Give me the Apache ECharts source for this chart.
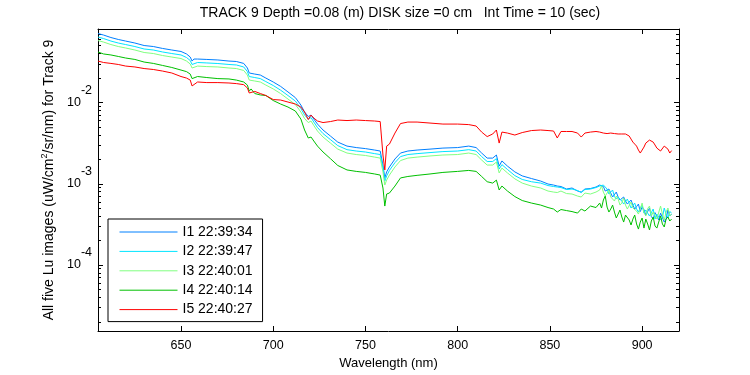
<!DOCTYPE html>
<html>
<head>
<meta charset="utf-8">
<script src="https://cdn.jsdelivr.net/npm/echarts@6/dist/echarts.min.js"></script>
<style>
html,body{margin:0;padding:0;background:#fff;}
#chart{width:750px;height:375px;}
</style>
</head>
<body>
<div id="chart"></div>
<script>
// Wavelength (nm)
const wavelength = [605,608,612,616,620,625,630,635,640,645,650,653,655,656,657,659,664,670,676,680,684,686,687,688,690,693,696,700,704,708,712,715,717,719,720.5,722,724,727,731,735,740,745,750,755,758,759.5,760.5,761.5,763,766,769,773,778,785,792,800,806,810,813,816,819,821,822.5,824,827,831,835,840,845,849,852,854,856,859,862,865,867,869,872,875,
877,878,879,880,881,882,883,884,885,886,887,888,889,890,891,892,893,894,895,896,897,898,899,900,901,902,903,904,905,906,907,908,909,910,911,912,913,914,915,916];

// Lu (uW/cm^2/sr/nm)
const I1 = [0.0707,0.0677,0.0631,0.0597,0.0571,0.0540,0.0503,0.0489,0.0463,0.0443,
0.0425,0.0396,0.0363,0.0324,0.0343,0.0343,0.0339,0.0334,0.0324,0.0320,
0.0303,0.0266,0.0231,0.0224,0.0224,0.0218,0.0200,0.0179,0.0158,0.0135,
0.0115,0.00932,0.00764,0.00673,0.00701,0.00626,0.00543,0.00459,0.00387,0.00326,
0.00291,0.00279,0.00271,0.00260,0.00253,0.00170,0.00118,0.00140,0.00161,0.00202,
0.00239,0.00253,0.00260,0.00267,0.00275,0.00279,0.00291,0.00279,0.00239,0.00207,
0.00207,0.00226,0.00165,0.00191,0.00165,0.00140,0.00125,0.00116,0.00108,0.000993,
0.000965,0.000938,0.000925,0.000862,0.000887,0.000814,0.000791,0.000862,0.000874,0.000912,
0.000965,0.00102,0.000925,0.000814,0.000838,0.000862,0.000769,0.000687,0.000727,0.000791,
0.000687,0.000631,0.000640,0.000687,0.000613,0.000563,0.000579,0.000631,0.000547,0.000489,
0.000524,0.000563,0.000455,0.000517,0.000482,0.000412,0.000424,0.000503,0.000395,0.000368,
0.000442,0.000462,0.000358,0.000436,0.000412,0.000338,0.000368,0.000475,0.000401,0.000424];

const I2 = [0.0640,0.0613,0.0571,0.0540,0.0517,0.0489,0.0456,0.0443,0.0419,0.0401,
0.0385,0.0358,0.0329,0.0294,0.0311,0.0311,0.0307,0.0302,0.0294,0.0290,
0.0274,0.0240,0.0209,0.0203,0.0203,0.0197,0.0181,0.0162,0.0142,0.0122,
0.01043,0.00843,0.00701,0.00626,0.00653,0.00575,0.00492,0.00415,0.00350,0.00295,
0.00263,0.00253,0.00246,0.00235,0.00229,0.00156,0.00108,0.00125,0.00146,0.00182,
0.00216,0.00229,0.00235,0.00242,0.00249,0.00253,0.00263,0.00253,0.00216,0.00188,
0.00188,0.00204,0.00152,0.00172,0.00150,0.00126,0.00113,0.00106,0.00102,0.000951,
0.000925,0.000912,0.000899,0.000850,0.000862,0.000826,0.000780,0.000850,0.000862,0.000899,
0.000938,0.000887,0.000965,0.000993,0.000862,0.000748,0.000769,0.000838,0.000696,0.000649,
0.000687,0.000727,0.000613,0.000563,0.000579,0.000649,0.000571,0.000503,0.000517,0.000579,
0.000489,0.000449,0.000503,0.000547,0.000436,0.000475,0.000468,0.000401,0.000424,0.000489,
0.000368,0.000424,0.000436,0.000358,0.000384,0.000503,0.000424,0.000379,0.000455,0.000436];

const I3 = [0.0579,0.0555,0.0517,0.0489,0.0469,0.0443,0.0413,0.0401,0.0379,0.0363,
0.0348,0.0324,0.0298,0.0266,0.0281,0.0281,0.0277,0.0274,0.0266,0.0262,
0.0248,0.0218,0.0189,0.0184,0.0184,0.0179,0.0164,0.0147,0.0129,0.01104,
0.00945,0.00764,0.00635,0.00567,0.00592,0.00521,0.00446,0.00376,0.00317,0.00267,
0.00239,0.00229,0.00223,0.00213,0.00207,0.00140,0.000965,0.00111,0.00128,0.00161,
0.00193,0.00207,0.00213,0.00220,0.00226,0.00229,0.00239,0.00229,0.00196,0.00170,
0.00170,0.00185,0.00136,0.00156,0.00136,0.00115,0.00102,0.000938,0.000887,0.000814,
0.000791,0.000780,0.000814,0.000758,0.000748,0.000706,0.000687,0.000769,0.000748,0.000791,
0.000838,0.000938,0.000791,0.000706,0.000769,0.000838,0.000687,0.000727,0.000613,0.000706,
0.000649,0.000547,0.000579,0.000668,0.000547,0.000489,0.000517,0.000596,0.000503,0.000532,
0.000462,0.000424,0.000489,0.000579,0.000442,0.000401,0.000496,0.000532,0.000401,0.000449,
0.000475,0.000368,0.000379,0.000532,0.000424,0.000358,0.000449,0.000503,0.000401,0.000424];

const I4 = [0.0419,0.0396,0.0385,0.0369,0.0353,0.0339,0.0315,0.0303,0.0286,0.0270,
0.0251,0.0240,0.0224,0.0197,0.0203,0.0209,0.0203,0.0197,0.0195,0.0189,
0.0179,0.0164,0.0138,0.0147,0.0129,0.0124,0.0122,0.01058,0.00958,0.00880,
0.00786,0.00626,0.00459,0.00366,0.00376,0.00336,0.00291,0.00246,0.00204,0.00168,
0.00148,0.00142,0.00138,0.00132,0.00128,0.000887,0.000532,0.000748,0.000769,0.000938,
0.00118,0.00123,0.00127,0.00132,0.00138,0.00142,0.00146,0.00142,0.00123,0.00106,
0.00102,0.00111,0.000838,0.000938,0.000814,0.000696,0.000622,0.000579,0.000547,0.000510,
0.000489,0.000449,0.000482,0.000468,0.000455,0.000436,0.000489,0.000462,0.000532,0.000510,
0.000579,0.000503,0.000631,0.000706,0.000517,0.000449,0.000489,0.000547,0.000449,0.000379,
0.000424,0.000475,0.000390,0.000338,0.000412,0.000436,0.000358,0.000311,0.000368,0.000412,
0.000320,0.000277,0.000338,0.000379,0.000285,0.000368,0.000320,0.000270,0.000348,0.000390,
0.000302,0.000285,0.000338,0.000401,0.000320,0.000294,0.000368,0.000390,0.000348,0.000368];

const I5 = [0.0324,0.0311,0.0303,0.0294,0.0281,0.0274,0.0262,0.0255,0.0244,0.0231,
0.0209,0.0200,0.0189,0.0160,0.0169,0.0179,0.0176,0.0176,0.0174,0.0171,
0.0166,0.0151,0.0131,0.0127,0.0137,0.0129,0.0122,0.01088,0.01073,0.01014,
0.00958,0.00880,0.00764,0.00617,0.00701,0.00644,0.00592,0.00567,0.00583,0.00609,
0.00600,0.00609,0.00600,0.00592,0.00583,0.00226,0.00148,0.00291,0.00308,0.00421,
0.00551,0.00575,0.00575,0.00559,0.00543,0.00543,0.00535,0.00514,0.00433,0.00381,
0.00410,0.00459,0.00317,0.00433,0.00421,0.00398,0.00427,0.00452,0.00459,0.00452,
0.00446,0.00366,0.00440,0.00440,0.00440,0.00421,0.00376,0.00421,0.00433,0.00440,
0.00433,0.00427,0.00421,0.00421,0.00415,0.00410,0.00421,0.00421,0.00415,0.00410,
0.00410,0.00415,0.00410,0.00404,0.00410,0.00410,0.00387,0.00355,0.00326,0.00308,
0.00291,0.00260,0.00239,0.00260,0.00283,0.00317,0.00331,0.00345,0.00350,0.00326,
0.00300,0.00275,0.00260,0.00253,0.00263,0.00291,0.00300,0.00267,0.00239,0.00256];

const seriesNames = ['I1 22:39:34','I2 22:39:47','I3 22:40:01','I4 22:40:14','I5 22:40:27'];
const seriesColors = ['#0080ff','#00e5ff','#80ff80','#00c000','#ff0000'];

const xTicks = [650,700,750,800,850,900];
const yMajorExp = [-4,-3,-2];
const yMinorMult = [2,3,4,5,6,7,8,9];
const xMin = 605, xMax = 920;
const yMinExp = -4.812, yMaxExp = -1.095;

const titleText = 'TRACK 9 Depth =0.08 (m) DISK size =0 cm   Int Time = 10 (sec)';

const allSeries = [I1,I2,I3,I4,I5];

const yMinor = [];
for (let e = -5; e <= -1; e++) {
  yMinorMult.forEach(k => {
    const v = Math.log10(k) + e;
    if (v > yMinExp && v < yMaxExp) yMinor.push(v);
  });
}

const FONT = 'Liberation Sans, Arial, Helvetica, sans-serif';

function yAxisDef(pos, ticks, len, showLine, extra) {
  return Object.assign({
    type: 'value', position: pos, min: yMinExp, max: yMaxExp,
    axisLine: {show: showLine, lineStyle: {color: '#000', width: 1}},
    axisTick: {show: true, inside: true, length: len, customValues: ticks, lineStyle: {color: '#000', width: 1}},
    axisLabel: {show: false},
    splitLine: {show: false}
  }, extra || {});
}

const chart = echarts.init(document.getElementById('chart'), null, {renderer: 'canvas'});
chart.setOption({
  animation: false,
  backgroundColor: '#fff',
  title: {
    text: titleText, left: 400, top: 6, textAlign: 'center', padding: 0,
    textStyle: {fontFamily: FONT, fontSize: 14, fontWeight: 'normal', color: '#000'}
  },
  grid: {left: 98, right: 71, top: 29, bottom: 44, containLabel: false},
  legend: {
    orient: 'vertical', left: 108, top: 219,
    padding: [6, 10, 5, 11], itemGap: 5.4, itemWidth: 58, itemHeight: 14,
    borderColor: '#000', borderWidth: 1, borderRadius: 0, backgroundColor: '#fff',
    selectedMode: false,
    itemStyle: {opacity: 0},
    lineStyle: {width: 1},
    textStyle: {fontFamily: FONT, fontSize: 14, color: '#000'},
    data: seriesNames
  },
  xAxis: [{
    type: 'value', position: 'bottom', min: xMin, max: xMax,
    name: 'Wavelength (nm)', nameLocation: 'middle', nameGap: 25,
    nameTextStyle: {fontFamily: FONT, fontSize: 13, color: '#000'},
    axisLine: {show: true, onZero: false, lineStyle: {color: '#000', width: 1}},
    axisTick: {show: true, inside: true, length: 5, customValues: xTicks, lineStyle: {color: '#000'}},
    axisLabel: {show: true, customValues: xTicks, margin: 8, fontFamily: FONT, fontSize: 12.5, color: '#000'},
    splitLine: {show: false}
  }, {
    type: 'value', position: 'top', min: xMin, max: xMax,
    axisLine: {show: true, onZero: false, lineStyle: {color: '#000', width: 1}},
    axisTick: {show: true, inside: true, length: 5, customValues: xTicks, lineStyle: {color: '#000'}},
    axisLabel: {show: false},
    splitLine: {show: false}
  }],
  yAxis: [
    yAxisDef('left', yMajorExp, 5, true, {
      axisLabel: {
        show: true, customValues: yMajorExp, margin: 6, align: 'right',
        formatter: v => '{b|10}{s|' + Math.round(v) + '}',
        rich: {
          b: {fontFamily: FONT, fontSize: 12.5, color: '#000'},
          s: {fontFamily: FONT, fontSize: 12.5, color: '#000', padding: [0, 0, 24, 0]}
        }
      },
      name: '{a|All five Lu images (uW/cm}{s|2}{a|/sr/nm) for Track 9}',
      nameLocation: 'middle', nameGap: 37, nameRotate: 90,
      nameTextStyle: {
        rich: {
          a: {fontFamily: FONT, fontSize: 14, color: '#000'},
          s: {fontFamily: FONT, fontSize: 9, color: '#000', padding: [0, 0, 10, 0]}
        }
      }
    }),
    yAxisDef('left', yMinor, 3, false),
    yAxisDef('right', yMajorExp, 5, true),
    yAxisDef('right', yMinor, 3, false)
  ],
  series: allSeries.map((arr, i) => ({
    name: seriesNames[i],
    type: 'line',
    xAxisIndex: 0, yAxisIndex: 0,
    symbol: 'none',
    color: seriesColors[i],
    lineStyle: {color: seriesColors[i], width: 1},
    data: wavelength.map((w, j) => [w, Math.log10(arr[j])])
  }))
});
</script>
</body>
</html>
